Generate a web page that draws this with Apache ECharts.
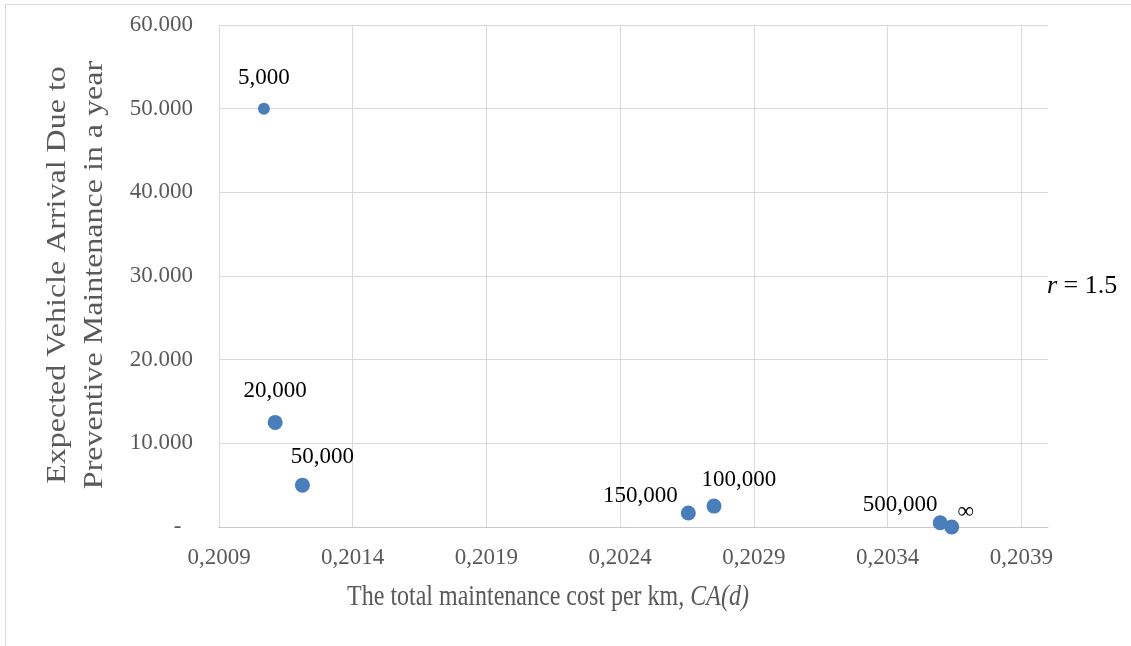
<!DOCTYPE html>
<html>
<head>
<meta charset="utf-8">
<title>Expected vehicle arrival vs. total maintenance cost</title>
<script src="https://cdn.jsdelivr.net/npm/echarts@6/dist/echarts.min.js"></script>
<style>
  html, body { margin: 0; padding: 0; background: #ffffff; }
  #chart { width: 1131px; height: 646px; }
</style>
</head>
<body>
<div id="chart"></div>
<script>
// Preventive maintenance interval d (km) used as the point labels
const intervalLabels = ['5,000', '20,000', '50,000', '100,000', '150,000', '500,000', '\u221E'];
// Total maintenance cost per km, CA(d)
const totalCost = [0.201068, 0.201110, 0.201212, 0.202751, 0.202655, 0.203597, 0.203640];
// Expected vehicle arrivals due to preventive maintenance in a year
const expectedArrivals = [50000, 12500, 5000, 2500, 1667, 500, 0];

// Axis scales
const xMin = 0.2009, xMax = 0.2040, xStep = 0.0005;
const yMin = 0, yMax = 60000, yStep = 10000;

// Titles
const xTitle = 'The total maintenance cost per km, {i|CA(d)}';
const yTitle = 'Expected Vehicle Arrival Due to\nPreventive Maintenance in a year';
const note = '{i|r} = 1.5';

// Where each point label sits relative to its marker (px)
const labelOffsets = {
  '5,000': [0, -31],
  '20,000': [0, -31],
  '50,000': [20, -28],
  '100,000': [25, -26],
  '150,000': [-48, -17],
  '500,000': [-40, -18],
  '\u221E': [14, -15]
};

const SERIF = "'Liberation Serif', 'Times New Roman', serif";
const GREY_TEXT = '#595959';
const GRID_LINE = '#d9d9d9';
const MARKER = '#4a7ebb';

function thousandsDot(v) {
  return String(Math.round(v)).replace(/\B(?=(\d{3})+(?!\d))/g, '.');
}

const points = totalCost.map((x, i) => ({
  name: intervalLabels[i],
  value: [x, expectedArrivals[i]],
  symbolSize: i === 0 ? 12 : 15,
  label: { offset: labelOffsets[intervalLabels[i]] }
}));

const chart = echarts.init(document.getElementById('chart'), null, { renderer: 'canvas' });

chart.setOption({
  animation: false,
  backgroundColor: '#ffffff',
  grid: { left: 219, top: 25, width: 829, height: 502 },
  xAxis: {
    type: 'value',
    min: xMin,
    max: xMax,
    interval: xStep,
    axisLine: { show: true, lineStyle: { color: '#c8c8c8', width: 1 } },
    axisTick: { show: false },
    axisLabel: {
      showMaxLabel: false,
      margin: 19,
      fontFamily: SERIF,
      fontSize: 23,
      lineHeight: 23,
      color: GREY_TEXT,
      formatter: v => v.toFixed(4).replace('.', ',')
    },
    splitLine: { show: true, showMaxLine: false, lineStyle: { color: GRID_LINE, width: 1 } }
  },
  yAxis: {
    type: 'value',
    min: yMin,
    max: yMax,
    interval: yStep,
    axisLine: { show: false },
    axisTick: { show: false },
    axisLabel: {
      margin: 26,
      fontFamily: SERIF,
      fontSize: 23,
      color: GREY_TEXT,
      formatter: v => (v === 0 ? '-  ' : thousandsDot(v))
    },
    splitLine: { show: true, showMinLine: false, lineStyle: { color: GRID_LINE, width: 1 } }
  },
  series: [{
    type: 'scatter',
    data: points,
    itemStyle: { color: MARKER, opacity: 1 },
    emphasis: { disabled: true },
    label: {
      show: true,
      position: 'inside',
      formatter: p => p.name,
      fontFamily: SERIF,
      fontSize: 23,
      lineHeight: 23,
      color: '#000000',
      textBorderWidth: 0
    }
  }],
  graphic: [
    // chart frame
    {
      type: 'rect',
      silent: true,
      shape: { x: 5.5, y: 4.5, width: 1400, height: 900 },
      style: { fill: 'none', stroke: GRID_LINE, lineWidth: 1 }
    },
    // x-axis title
    {
      type: 'text',
      silent: true,
      x: 548,
      y: 597,
      scaleX: 0.8,
      style: {
        text: xTitle,
        fontFamily: SERIF,
        fontSize: 30,
        fill: GREY_TEXT,
        align: 'center',
        verticalAlign: 'middle',
        rich: { i: { fontFamily: SERIF, fontSize: 30, fontStyle: 'italic', fill: GREY_TEXT } }
      }
    },
    // y-axis title (two lines, reading upwards)
    {
      type: 'text',
      silent: true,
      x: 76,
      y: 275,
      rotation: Math.PI / 2,
      scaleY: 0.87,
      style: {
        text: yTitle,
        fontFamily: SERIF,
        fontSize: 32,
        lineHeight: 42,
        fill: GREY_TEXT,
        align: 'center',
        verticalAlign: 'middle'
      }
    },
    // parameter note
    {
      type: 'text',
      silent: true,
      x: 1047,
      y: 286,
      style: {
        text: note,
        fontFamily: SERIF,
        fontSize: 26,
        fill: '#000000',
        verticalAlign: 'middle',
        align: 'left',
        rich: { i: { fontFamily: SERIF, fontSize: 26, fontStyle: 'italic', fill: '#000000' } }
      }
    }
  ]
});
</script>
</body>
</html>
